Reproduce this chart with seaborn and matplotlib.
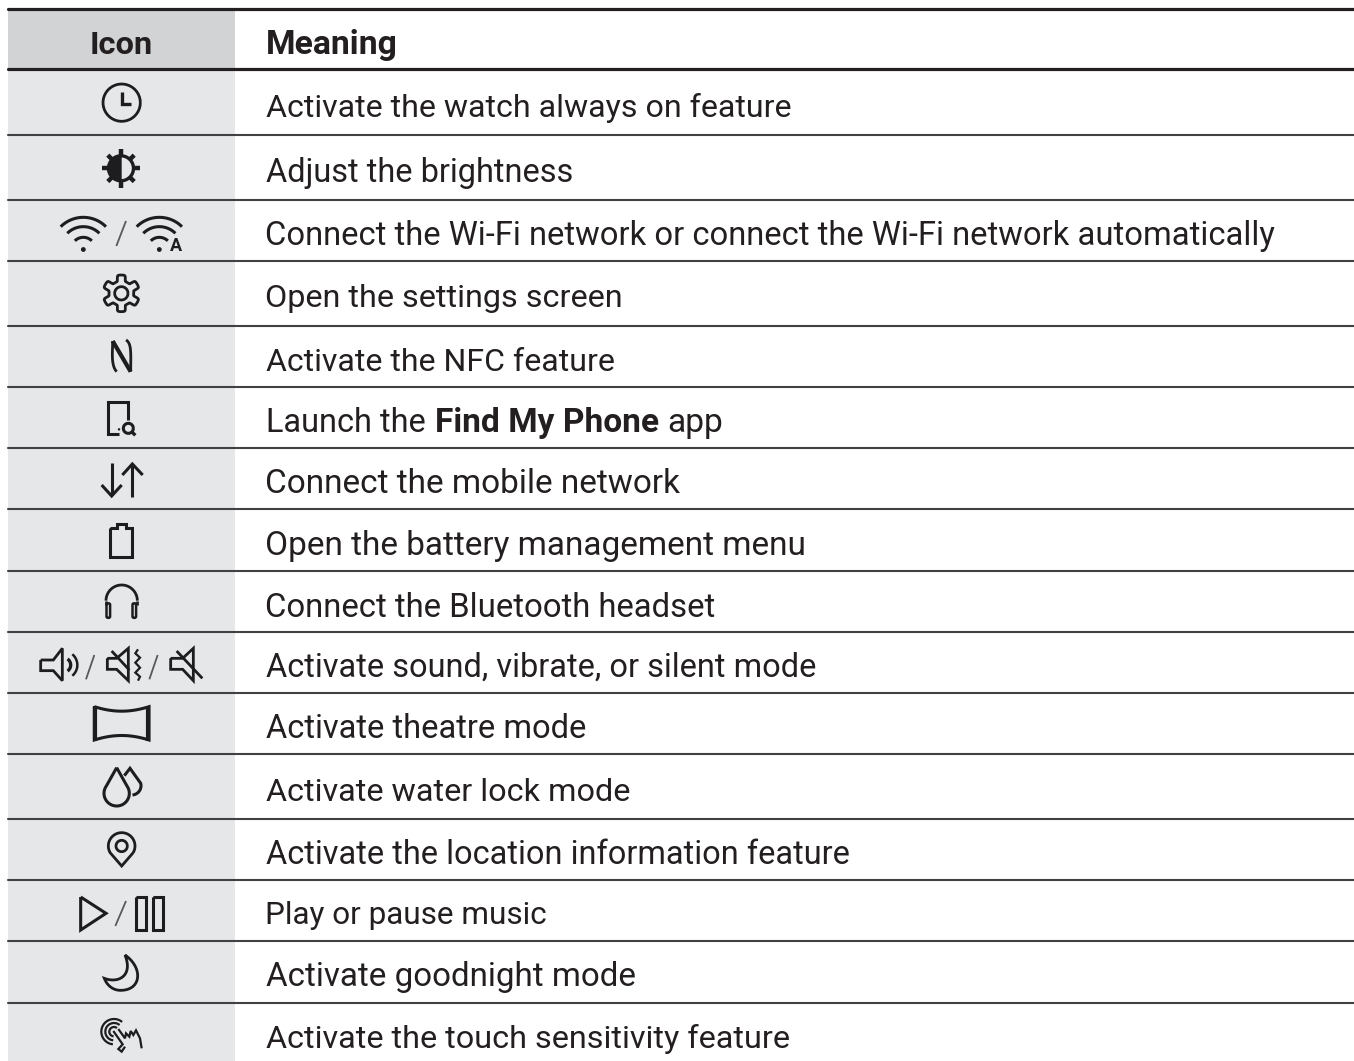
import numpy as np
import pandas as pd
import matplotlib
matplotlib.use('Agg')
import matplotlib.pyplot as plt
from matplotlib.patches import Circle, Wedge, Rectangle, FancyBboxPatch
import seaborn as sns

sns.set_theme(style='white')
plt.rcParams['font.family'] = ['Roboto', 'DejaVu Sans']

INK = '#1d1d1f'
GREY = '#58595b'

headers = ['Icon', 'Meaning']
meanings = [
    'Activate the watch always on feature',
    'Adjust the brightness',
    'Connect the Wi-Fi network or connect the Wi-Fi network automatically',
    'Open the settings screen',
    'Activate the NFC feature',
    None,
    'Connect the mobile network',
    'Open the battery management menu',
    'Connect the Bluetooth headset',
    'Activate sound, vibrate, or silent mode',
    'Activate theatre mode',
    'Activate water lock mode',
    'Activate the location information feature',
    'Play or pause music',
    'Activate goodnight mode',
    'Activate the touch sensitivity feature',
]
meaning_left = [266, 266, 265, 265, 266, 266, 265, 265, 265, 266, 266, 266, 266, 265, 266, 266]
meaning_right = [792, 574, 1275, 623, 615, 723, 680, 808, 716, 817, 587, 631, 850, 548, 637, 790]
baselines = [117, 182, 245, 307, 371, 432, 493, 555, 617, 677, 738, 801, 864, 924, 986, 1048]
thick_rules = [9, 69]
thin_rules = [135, 200, 261, 326, 387, 448, 509, 571, 632, 693, 754, 819, 880, 941, 1003]

fig = plt.figure(figsize=(13.54, 10.61), dpi=100)
ax = fig.add_axes([0, 0, 1, 1])


def rules_frame(ys):
    rows = [{'x': x, 'y': y, 'rule': y} for y in ys for x in (8, 1354)]
    return pd.DataFrame(rows)


sns.lineplot(data=rules_frame(thin_rules), x='x', y='y', units='rule', estimator=None,
             color='#414042', linewidth=1.5, legend=False, ax=ax, zorder=3)
sns.lineplot(data=rules_frame(thick_rules), x='x', y='y', units='rule', estimator=None,
             color='#231f20', linewidth=2.3, legend=False, ax=ax, zorder=3)

ax.add_patch(Rectangle((8, 10), 227, 59, fc='#d1d3d4', ec='none', zorder=1))
ax.add_patch(Rectangle((8, 69), 227, 992, fc='#e6e7e8', ec='none', zorder=1))

ax.set_xlim(0, 1354)
ax.set_ylim(1061, 0)
ax.set_axis_off()

renderer = fig.canvas.get_renderer()


def fit_text(s, left, right, base, weight='normal'):
    t = ax.text(left, base, s, fontsize=25, fontweight=weight, color='#231f20',
                ha='left', va='baseline', zorder=5)
    w = t.get_window_extent(renderer).width
    t.set_fontsize(25 * (right - left) / w)
    return t


fit_text(headers[0], 90, 153, 54, 'bold')
fit_text(headers[1], 266, 398, 54, 'bold')
for s, l, r, b in zip(meanings, meaning_left, meaning_right, baselines):
    if s is not None:
        fit_text(s, l, r, b)
fit_text('Launch the', 266, 426, baselines[5])
fit_text('Find My Phone', 435, 659, baselines[5], 'bold')
fit_text('app', 667, 723, baselines[5])


# icons are traced in the 3x zoom coordinates of the crop they were read from
def zl(pts, oy=0, ox=0, lw=2.0, color=INK, close=False):
    pts = np.asarray(pts, float)
    if close:
        pts = np.vstack([pts, pts[:1]])
    ax.plot(pts[:, 0] / 3 + ox, pts[:, 1] / 3 + oy, color=color, lw=lw,
            solid_capstyle='butt', solid_joinstyle='miter', zorder=6)


def arc(cx, cy, r, a1, a2, n=40):
    t = np.radians(np.linspace(a1, a2, n))
    return np.column_stack([cx + r * np.cos(t), cy - r * np.sin(t)])


def cubic(p0, p1, p2, p3, n=30):
    t = np.linspace(0, 1, n)[:, None]
    p0, p1, p2, p3 = [np.array(p, float) for p in (p0, p1, p2, p3)]
    return (1 - t) ** 3 * p0 + 3 * (1 - t) ** 2 * t * p1 + 3 * (1 - t) * t ** 2 * p2 + t ** 3 * p3


def slash(x0, y0, x1, y1, oy):
    zl([(x0, y0), (x1, y1)], oy=oy, lw=1.3, color=GREY)


# clock
zl(arc(365, 308, 56, 0, 360), lw=2.0)
zl([(365, 275), (365, 312), (393, 312)], lw=2.4)

# brightness
ax.add_patch(Wedge((121, 168.3), 12.5, 90, 270, fc=INK, ec=INK, lw=1, zorder=6))
ax.add_patch(Circle((121, 168.3), 12.5, fc='none', ec=INK, lw=2.4, zorder=6))
for a in range(0, 360, 90):
    zl(np.vstack([arc(363, 505, 36, a, a, 1), arc(363, 505, 58, a, a, 1)]), lw=3.2)
for a in range(45, 360, 90):
    zl(np.vstack([arc(363, 505, 36, a, a, 1), arc(363, 505, 56, a, a, 1)]), lw=3.2)

# wifi
for cx in (250, 478):
    for r in (96, 68, 36):
        zl(arc(cx, 748, r, 45, 135), lw=2.2)
    ax.add_patch(Circle((cx / 3, 249.5), 2.4, fc=INK, ec='none', zorder=6))
slash(349, 738, 378, 663, 0)
ax.text(175.7, 251, 'A', fontsize=13, fontweight='bold', color=INK, ha='center', va='baseline', zorder=6)

# settings
t = np.linspace(0, 2 * np.pi, 361)
r = 46 + 9 * np.tanh(3.5 * np.cos(6 * (t - np.pi / 2)))
zl(np.column_stack([364 + r * np.cos(t), 70 - r * np.sin(t)]), oy=270, lw=2.0)
zl(arc(364, 70, 20, 0, 360), oy=270, lw=2.0)

# NFC
zl(cubic((38, 18), (38, 50), (32, 90), (50, 110)), oy=335, ox=100, lw=2.0)
zl(cubic((78, 15), (96, 25), (92, 60), (92, 110)), oy=335, ox=100, lw=2.0)
zl([(38, 18), (92, 110)], oy=335, ox=100, lw=3.0)

# find my phone
zl([(385, 450), (385, 395), (323, 395), (323, 493), (357, 493)], oy=270, lw=2.2)
zl(arc(385, 475, 15, 0, 360), oy=270, lw=2.2)
zl([(396, 486), (406, 496)], oy=270, lw=2.4)
ax.add_patch(Circle((357 / 3, 478 / 3 + 270), 1.2, fc=INK, ec='none', zorder=6))

# mobile network
zl([(335, 580), (335, 675)], oy=270, lw=2.2)
zl([(305, 645), (335, 678), (365, 645)], oy=270, lw=2.2)
zl([(397, 680), (397, 585)], oy=270, lw=2.2)
zl([(367, 615), (397, 582), (428, 615)], oy=270, lw=2.2)

# battery
zl([(330, 25), (350, 25), (350, 12), (378, 12), (378, 25), (397, 25), (397, 110), (330, 110)], oy=520, lw=2.2, close=True)

# headset
zl(arc(365, 242, 47, 0, 180), oy=520, lw=2.0)
zl([(318, 242), (318, 255)], oy=520, lw=2.0)
zl([(412, 242), (412, 255)], oy=520, lw=2.0)
for x in (318, 396):
    ax.add_patch(FancyBboxPatch((x / 3 + 0.5, 250 / 3 + 520), 3.6, 14.5, boxstyle='round,pad=0,rounding_size=1.5',
                                fc='none', ec=INK, lw=1.8, zorder=6))

# sound / vibrate / silent
zl([(122, 420), (160, 420), (187, 385), (187, 482), (160, 452), (122, 452)], oy=520, lw=2.0, close=True)
zl(arc(190, 435, 22, -55, 55), oy=520, lw=2.4)
zl(arc(190, 435, 42, -50, 50), oy=520, lw=1.8)
slash(258, 478, 283, 405, 520)
zl([(322, 415), (350, 415), (385, 385), (385, 482), (350, 448), (322, 448)], oy=520, lw=2.0, close=True)
zl([(335, 393), (388, 450)], oy=520, lw=2.0)
zl([(414, 388), (406, 400), (420, 413), (406, 428), (420, 443), (406, 458), (420, 470), (414, 482)], oy=520, lw=1.6)
slash(448, 478, 473, 405, 520)
zl([(512, 415), (548, 415), (580, 385), (580, 482), (548, 448), (512, 448)], oy=520, lw=2.0, close=True)
zl([(530, 393), (607, 475)], oy=520, lw=2.0)

# theatre
zl(np.vstack([cubic((283, 560), (340, 578), (390, 578), (447, 560)),
              cubic((447, 660), (390, 642), (340, 642), (283, 660))]), oy=520, lw=2.2, close=True)
zl([(285, 558), (285, 662)], oy=520, lw=3.0)
zl([(445, 558), (445, 662)], oy=520, lw=3.0)

# water lock
zl(np.vstack([[(110, 38)], arc(110, 115, 38, 145, 395), [(110, 38)]]), oy=755, ox=80, lw=2.2)
zl(np.vstack([[(133, 62), (150, 40)], arc(155, 92, 28, 15, -85)]), oy=755, ox=80, lw=2.2)

# location
zl(np.vstack([arc(365, 165, 40, -30, 210), [(365, 225)]]), oy=791, lw=2.0, close=True)
zl(arc(365, 165, 17, 0, 360), oy=791, lw=2.0)

# play / pause
zl([(242, 318), (318, 367), (242, 417)], oy=791, lw=2.2, close=True)
slash(346, 405, 378, 330, 791)
zl([(407, 318), (438, 318), (438, 417), (407, 417)], oy=791, lw=2.2, close=True)
zl([(458, 318), (488, 318), (488, 417), (458, 417)], oy=791, lw=2.2, close=True)

# goodnight
zl(np.vstack([cubic((375, 492), (430, 530), (425, 598), (362, 598)),
              cubic((362, 598), (340, 598), (322, 585), (313, 562)),
              cubic((313, 562), (355, 578), (400, 555), (375, 492))]), oy=791, lw=2.0)

# touch sensitivity
for r in (38, 26, 14):
    zl(arc(72, 80, r, 50, 265), oy=1005, ox=90, lw=1.6)
zl([(70, 78), (98, 118), (85, 132), (95, 140), (105, 125)], oy=1005, ox=90, lw=1.6)
zl([(85, 72), (105, 100), (108, 85), (118, 95), (122, 78), (130, 90), (138, 76), (150, 100), (155, 130)],
   oy=1005, ox=90, lw=1.6)

fig.savefig('out.png', dpi=100, facecolor='white')
